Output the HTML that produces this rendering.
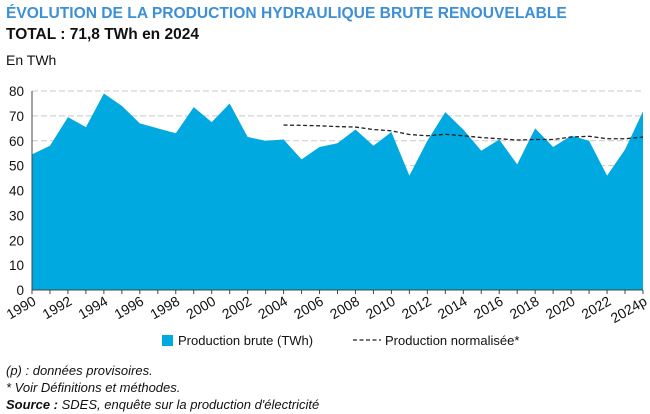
<!DOCTYPE html>
<html><head><meta charset="utf-8">
<style>
body{margin:0;width:650px;height:414px;background:#fff;font-family:"Liberation Sans",sans-serif;position:relative;overflow:hidden}
.t{position:absolute;white-space:nowrap}
</style></head><body>
<div class="t" style="left:6px;top:5px;font-size:15.6px;font-weight:bold;color:#3d8fd6">ÉVOLUTION DE LA PRODUCTION HYDRAULIQUE BRUTE RENOUVELABLE</div>
<div class="t" style="left:6px;top:26px;font-size:15.5px;font-weight:bold;color:#111">TOTAL : 71,8 TWh en 2024</div>
<div class="t" style="left:6px;top:52px;font-size:14px;color:#111">En TWh</div>
<svg id="c" width="650" height="414" style="position:absolute;left:0;top:0"></svg>
<div class="t" style="left:6px;top:363px;font-size:13px;font-style:italic;color:#111">(p) : données provisoires.</div>
<div class="t" style="left:6px;top:380px;font-size:13px;font-style:italic;color:#111">* Voir Définitions et méthodes.</div>
<div class="t" style="left:6px;top:397px;font-size:13px;font-style:italic;color:#111"><b>Source :</b> SDES, enquête sur la production d'électricité</div>
<script>
const years=[1990,1991,1992,1993,1994,1995,1996,1997,1998,1999,2000,2001,2002,2003,2004,2005,2006,2007,2008,2009,2010,2011,2012,2013,2014,2015,2016,2017,2018,2019,2020,2021,2022,2023,2024];
const brute=[54.5,58,69.5,65.5,79,74,67,65,63,73.5,67.5,75,61.5,60,60.5,52.5,57.5,59,64.5,58,63.5,46,60,71.5,64.5,56,60.5,50.5,65,57.5,62,60,46,56.5,71.8];
const normYears=[2004,2005,2006,2007,2008,2009,2010,2011,2012,2013,2014,2015,2016,2017,2018,2019,2020,2021,2022,2023,2024];
const norm=[66.3,66.2,66,65.7,65.5,64.5,64,62.5,62,62.6,62,61.3,60.8,60.3,60.5,60.5,61.5,61.8,60.8,60.8,61.5];
const yTicks=[0,10,20,30,40,50,60,70,80];
const xLabels=[1990,1992,1994,1996,1998,2000,2002,2004,2006,2008,2010,2012,2014,2016,2018,2020,2022,"2024p"];
const svg=document.getElementById('c');const NS='http://www.w3.org/2000/svg';
const X=y=>32+(y-1990)*(643-32)/34;const Y=v=>290-v*(290-91)/80;
function mk(t,a,p){const e=document.createElementNS(NS,t);for(const k in a)e.setAttribute(k,a[k]);(p||svg).appendChild(e);return e;}
yTicks.forEach(v=>{if(v>0){const g=mk('line',{x1:32,x2:643,y1:Y(v),y2:Y(v),stroke:'#c8c8c8','stroke-dasharray':'6 3'});}
const t=mk('text',{x:24,y:Y(v)+5,'text-anchor':'end','font-size':13.5,fill:'#111'});t.textContent=v;});
let d='M'+X(years[0])+','+Y(0);years.forEach((y,i)=>d+=' L'+X(y)+','+Y(brute[i]));d+=' L'+X(years[years.length-1])+','+Y(0)+'Z';
const a=mk('path',{d:d,fill:'#00a9e0'});
const n=mk('polyline',{points:normYears.map((y,i)=>X(y)+','+Y(norm[i])).join(' '),fill:'none',stroke:'#222','stroke-width':1.3,'stroke-dasharray':'4 2.5'});
const ax=mk('line',{x1:32,x2:32,y1:91,y2:290,stroke:'#444'});
const bx=mk('line',{x1:32,x2:643,y1:290,y2:290,stroke:'#444'});
years.forEach(y=>{const tk=mk('line',{x1:X(y),x2:X(y),y1:290,y2:294,stroke:'#444'});});
xLabels.forEach(l=>{const yr=typeof l==='number'?l:2024;const x=X(yr)+5,y=304;const t=mk('text',{x:x,y:y,'text-anchor':'end','font-size':14,fill:'#111',transform:'rotate(-30 '+x+' '+y+')'});t.textContent=l;});
const lg=mk('g',{});
const s=mk('rect',{x:162,y:335,width:11,height:11,fill:'#00a9e0'},lg);
const t1=mk('text',{x:178,y:345,'font-size':13,fill:'#111'},lg);t1.textContent='Production brute (TWh)';
const l2=mk('line',{x1:353,x2:381,y1:340,y2:340,stroke:'#222','stroke-width':1.3,'stroke-dasharray':'4 2.5'},lg);
const t2=mk('text',{x:385,y:345,'font-size':13,fill:'#111'},lg);t2.textContent='Production normalisée*';
</script>
</body></html>
